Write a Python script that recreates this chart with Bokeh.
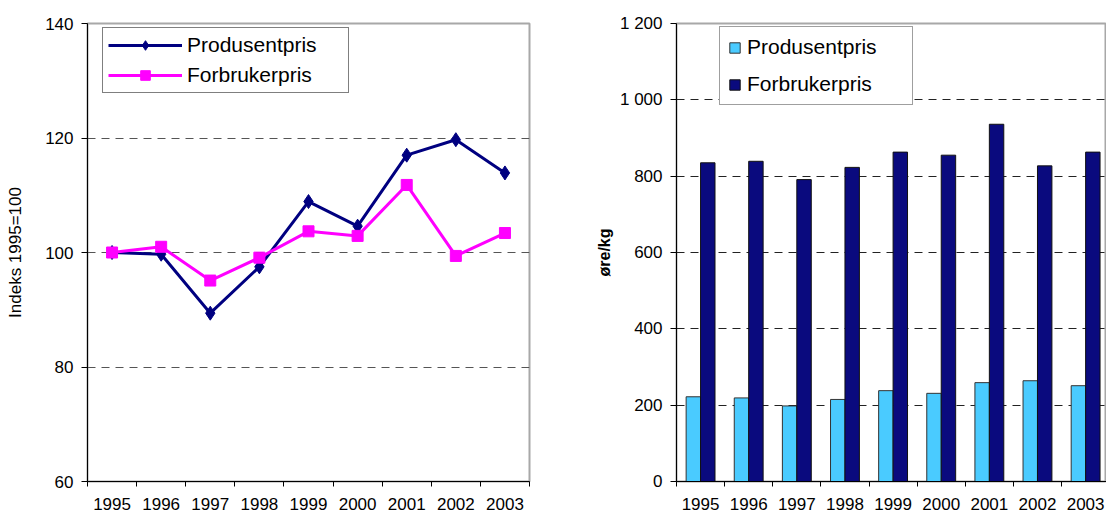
from bokeh.plotting import figure
from bokeh.layouts import row
from bokeh.models import Range1d, FixedTicker, Legend, LegendItem, ColumnDataSource
from bokeh.transform import dodge
from bokeh.embed import file_html
from bokeh.resources import INLINE

# ---- data ----
years = ["1995", "1996", "1997", "1998", "1999", "2000", "2001", "2002", "2003"]
produsent_indeks = [100.0, 99.7, 89.4, 97.5, 108.9, 104.6, 117.0, 119.7, 113.9]
forbruker_indeks = [100.0, 101.0, 95.1, 99.1, 103.7, 102.9, 111.8, 99.4, 103.4]
produsent_ore = [222, 219, 198, 215, 238, 231, 259, 264, 251]
forbruker_ore = [835, 839, 791, 823, 863, 855, 936, 827, 863]
index_ticks = [60, 80, 100, 120, 140]
ore_ticks = [0, 200, 400, 600, 800, 1000, 1200]
ore_tick_labels = ["0", "200", "400", "600", "800", "1 000", "1 200"]
series_names = ["Produsentpris", "Forbrukerpris"]

FONT = "Liberation Sans"
idx = list(range(len(years)))
boundaries = [i - 0.5 for i in range(len(years) + 1)]


def style_common(p):
    p.background_fill_color = "white"
    p.border_fill_color = "white"
    p.outline_line_color = "#a8a8a8"
    p.outline_line_width = 2
    p.xgrid.visible = False
    for ax in (p.xaxis[0], p.yaxis[0]):
        ax.axis_line_color = "black"
        ax.axis_line_width = 1
        ax.major_label_text_font = FONT
        ax.major_label_text_font_size = "17px"
        ax.major_label_text_color = "black"
        ax.axis_label_text_font = FONT
        ax.axis_label_text_color = "black"
    # x axis: labels at category centres, tick marks at category boundaries
    xa = p.xaxis[0]
    xa.ticker = FixedTicker(ticks=idx, minor_ticks=boundaries)
    xa.major_label_overrides = {i: y for i, y in zip(idx, years)}
    xa.major_tick_in = 0
    xa.major_tick_out = 0
    xa.minor_tick_in = 0
    xa.minor_tick_out = 5
    xa.minor_tick_line_color = "black"
    xa.major_label_standoff = 11
    ya = p.yaxis[0]
    ya.major_tick_in = 0
    ya.major_tick_out = 6
    ya.major_tick_line_color = "black"
    ya.minor_tick_line_color = None
    ya.major_label_standoff = 8


# ---------------- left: index line chart ----------------
src_line = ColumnDataSource(dict(x=idx, prod=produsent_indeks, forb=forbruker_indeks))
p1 = figure(width=560, height=512, output_backend="svg", toolbar_location=None,
            x_range=Range1d(-0.5, len(years) - 0.5), y_range=Range1d(60, 140),
            min_border_left=87, min_border_right=31, min_border_top=23, min_border_bottom=30)
style_common(p1)
p1.yaxis.ticker = FixedTicker(ticks=index_ticks)
p1.yaxis.axis_label = "Indeks 1995=100"
p1.yaxis.axis_label_text_font_size = "17px"
p1.yaxis.axis_label_text_font_style = "normal"
p1.yaxis.axis_label_standoff = 17
p1.ygrid.grid_line_color = "#555555"
p1.ygrid.grid_line_dash = "8 6"
p1.ygrid.grid_line_width = 1.2

navy = "#000080"
magenta = "#FF00FF"
l1 = p1.line("x", "prod", source=src_line, line_color=navy, line_width=3)
m1 = p1.scatter("x", "prod", source=src_line, marker="diamond", size=14,
                fill_color=navy, line_color=navy)
l2 = p1.line("x", "forb", source=src_line, line_color=magenta, line_width=3)
m2 = p1.scatter("x", "forb", source=src_line, marker="square", size=11,
                fill_color=magenta, line_color=magenta)

leg1 = Legend(items=[LegendItem(label=series_names[0], renderers=[l1, m1]),
                     LegendItem(label=series_names[1], renderers=[l2, m2])],
              location=(15, 388), margin=0, padding=5, spacing=6,
              glyph_width=74, glyph_height=24, label_height=24, label_width=156,
              label_standoff=5, label_text_font=FONT, label_text_font_size="21px",
              label_text_color="black", border_line_color="black", border_line_width=1,
              background_fill_color="white", background_fill_alpha=1)
p1.add_layout(leg1)

# ---------------- right: øre/kg bar chart ----------------
src_bar = ColumnDataSource(dict(x=idx, prod=produsent_ore, forb=forbruker_ore))
p2 = figure(width=546, height=512, output_backend="svg", toolbar_location=None,
            x_range=Range1d(-0.5, 8.434), y_range=Range1d(0, 1200),
            min_border_left=116, min_border_right=0, min_border_top=20, min_border_bottom=30)
style_common(p2)
p2.yaxis.ticker = FixedTicker(ticks=ore_ticks)
p2.yaxis.major_label_overrides = {t: s for t, s in zip(ore_ticks, ore_tick_labels)}
p2.yaxis.axis_label = "øre/kg"
p2.yaxis.axis_label_text_font_size = "16px"
p2.yaxis.axis_label_text_font_style = "bold"
p2.yaxis.axis_label_standoff = 4
p2.ygrid.grid_line_color = "#222222"
p2.ygrid.grid_line_dash = "8 6"
p2.ygrid.grid_line_width = 1.2

light = "#4ACBFF"
dark = "#0A0A7E"
b1 = p2.vbar(x=dodge("x", -0.15, range=p2.x_range), top="prod", width=0.3, source=src_bar,
             fill_color=light, line_color="#333333", line_width=1)
b2 = p2.vbar(x=dodge("x", 0.15, range=p2.x_range), top="forb", width=0.3, source=src_bar,
             fill_color=dark, line_color="#111111", line_width=1)

leg2 = Legend(items=[LegendItem(label=series_names[0], renderers=[b1]),
                     LegendItem(label=series_names[1], renderers=[b2])],
              location=(43, 376), margin=0, padding=8, spacing=13,
              glyph_width=13, glyph_height=13, label_height=24, label_width=157,
              label_standoff=6, label_text_font=FONT, label_text_font_size="21px",
              label_text_color="black", border_line_color="#404040", border_line_width=1,
              background_fill_color="white", background_fill_alpha=1)
p2.add_layout(leg2)

layout = row(p1, p2)
open("out.html", "w").write(file_html(layout, INLINE))
